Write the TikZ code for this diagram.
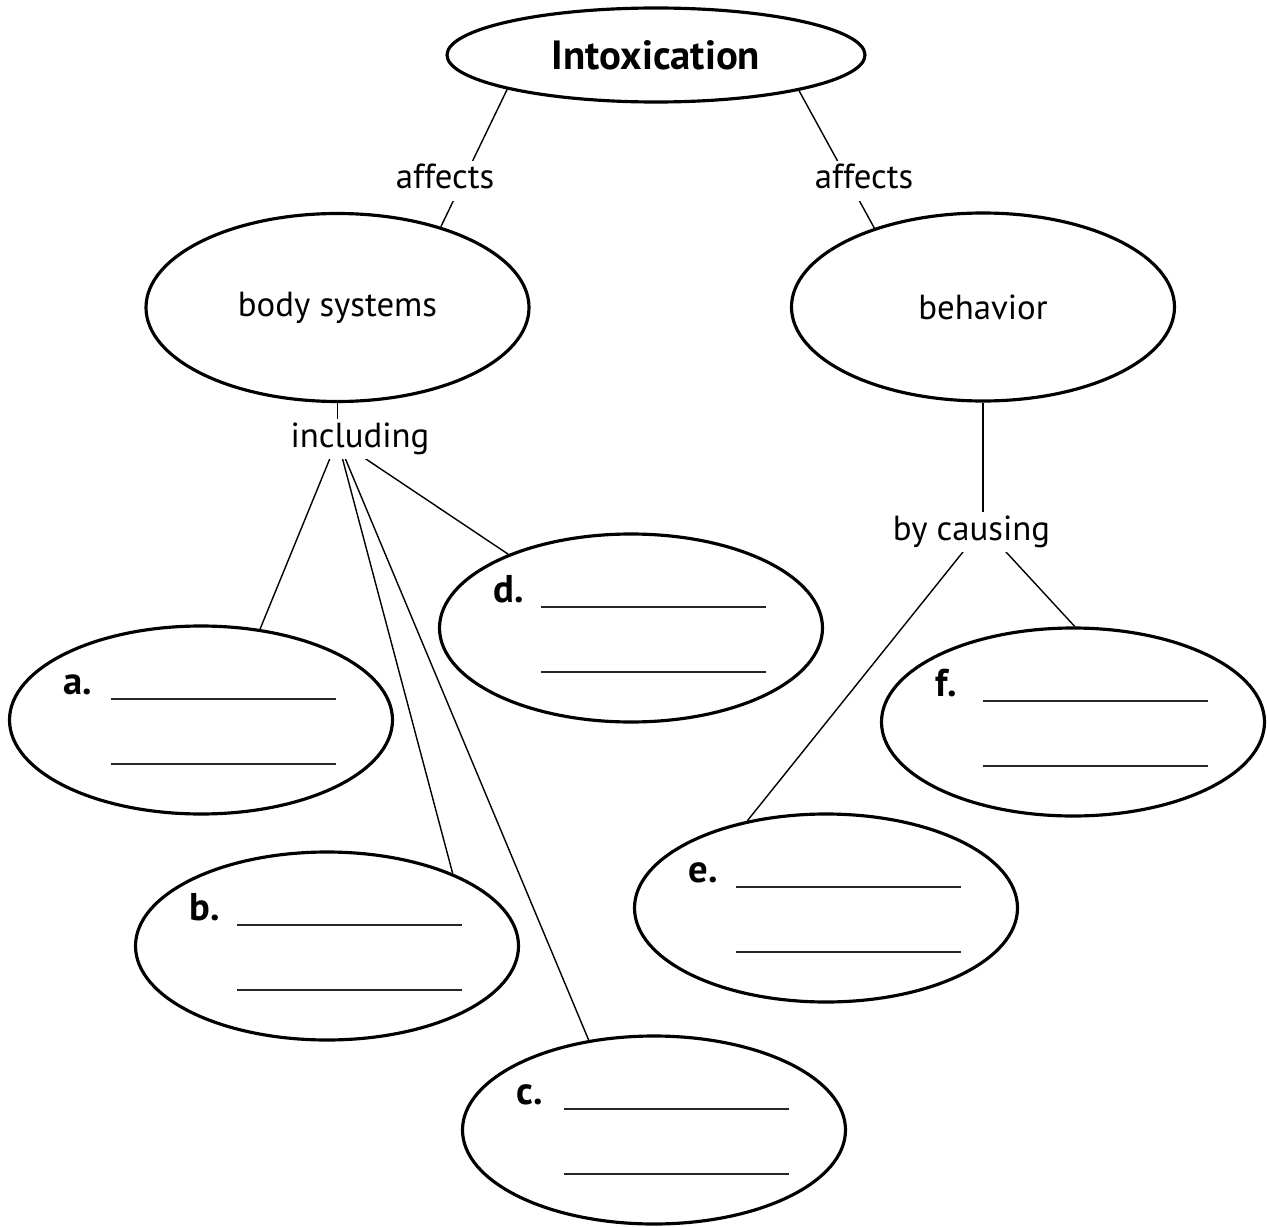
\documentclass[tikz,border=0pt]{standalone}
\usepackage{fontspec}
\setmainfont{PT Sans}
\usetikzlibrary{shapes.geometric,calc}

\begin{document}
\begin{tikzpicture}[thin,
  every node/.style={font=\fontsize{9.9}{11}\selectfont},
  bubble/.style={ellipse, draw, line width=0.9pt, minimum width=3.83cm, minimum height=1.88cm, inner sep=0pt},
  linker/.style={fill=white, inner sep=0pt, text height=0.28cm, text depth=0.12cm, anchor=base},
  letter/.style={font=\fontsize{11}{12}\selectfont\bfseries, anchor=base west, inner sep=0pt},
  blank/.style={line width=0.6pt, black!85}]
\useasboundingbox (0,0) rectangle (12.67,-12.27);
\draw (6.56,-0.55) node[bubble, minimum width=4.18cm, minimum height=0.94cm, font=\fontsize{11.6}{13}\selectfont\bfseries] (intox) {Intoxication};
\draw (3.375,-3.075) node[bubble] (body) {body systems};
\draw (9.83,-3.07) node[bubble] (behav) {behavior};
% answer bubbles
\foreach \n/\x/\y in {a/2.01/7.20, b/3.27/9.46, c/6.54/11.30, d/6.31/6.28, e/8.26/9.08, f/10.73/7.22}{
  \draw (\x,-\y) node[bubble] (\n) {};
  \node[letter] (\n-tag) at ($(\n)+(-1.38,0.26)$) {\n.};
  \draw[blank] ($(\n)+(-0.90,0.21)$) -- ($(\n)+(1.35,0.21)$);
  \draw[blank] ($(\n)+(-0.90,-0.44)$) -- ($(\n)+(1.35,-0.44)$);
}
\coordinate (incl) at (3.375,-4.40);
\coordinate (caus) at (9.83,-5.27);
\draw (intox.193) -- (body.38);
\draw (intox.346) -- (behav.144);
\draw (body) -- (incl);
\draw (incl) -- (a.57);
\draw (incl) -- (b.30);
\draw (incl) -- (c.126);
\draw (incl) -- (d.149);
\draw (behav) -- (caus);
\draw (caus) -- (e.132);
\draw (caus) -- (f.89);
% link words
\node[linker] (aff1) at (4.45,-1.89) {affects};
\node[linker] (aff2) at (8.64,-1.89) {affects};
\node[linker] (inc) at (3.60,-4.47) {including};
\node[linker] (cau) at (9.715,-5.40) {by causing};
\end{tikzpicture}
\end{document}
